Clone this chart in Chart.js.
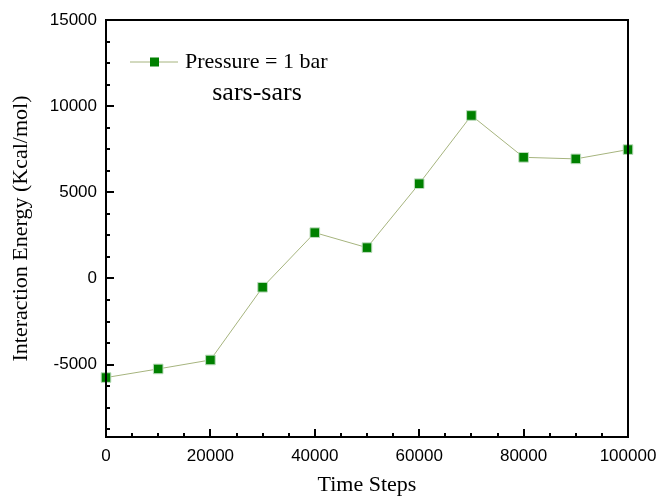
<!DOCTYPE html>
<html>
<head>
<meta charset="utf-8">
<script src="https://cdn.jsdelivr.net/npm/chart.js@4"></script>
<style>
  html, body { margin: 0; padding: 0; background: #fff; }
</style>
</head>
<body>
<canvas id="chart" width="660" height="496"></canvas>
<script>
// Data
const timeSteps = [0, 10000, 20000, 30000, 40000, 50000, 60000, 70000, 80000, 90000, 100000];
const energy = [-5750, -5250, -4730, -510, 2660, 1790, 5500, 9460, 7030, 6940, 7480];
const seriesLabel = 'Pressure = 1 bar';
const caption = 'sars-sars';

// Axis ticks
const xTicks = [0, 20000, 40000, 60000, 80000, 100000];
const yTicks = [-5000, 0, 5000, 10000, 15000];
const xRange = [0, 100000];
const yRange = [-9200, 15000];
const xMinorStep = 5000;
const yMinorStep = 1250;

const lineColor = '#a6b47e';
const markerColor = '#008000';
const markerEdge = '#bcdcbc';

// Draws the box frame, inward ticks and the in-plot legend
const framePlugin = {
  id: 'frame',
  afterDatasetsDraw(chart) {
    const { ctx, chartArea: a, scales: { x, y } } = chart;
    ctx.save();
    ctx.strokeStyle = '#000';
    ctx.lineWidth = 2;
    ctx.strokeRect(a.left, a.top, a.right - a.left, a.bottom - a.top);

    ctx.beginPath();
    for (let v = xRange[0]; v <= xRange[1]; v += xMinorStep) {
      const px = Math.round(x.getPixelForValue(v));
      const len = xTicks.includes(v) ? 8 : 4;
      ctx.moveTo(px, a.bottom);
      ctx.lineTo(px, a.bottom - len);
    }
    const yStart = Math.ceil(yRange[0] / yMinorStep) * yMinorStep;
    for (let v = yStart; v <= yRange[1]; v += yMinorStep) {
      const py = Math.round(y.getPixelForValue(v));
      const len = yTicks.includes(v) ? 8 : 4;
      ctx.moveTo(a.left, py);
      ctx.lineTo(a.left + len, py);
    }
    ctx.stroke();

    // legend entry
    const ly = a.top + 42;
    const lx = a.left + 24;
    ctx.strokeStyle = lineColor;
    ctx.lineWidth = 1;
    ctx.beginPath();
    ctx.moveTo(lx, ly);
    ctx.lineTo(lx + 48, ly);
    ctx.stroke();
    ctx.fillStyle = markerColor;
    ctx.fillRect(lx + 20, ly - 4.5, 9, 9);

    ctx.fillStyle = '#000';
    ctx.textBaseline = 'middle';
    ctx.textAlign = 'left';
    ctx.font = '22px "Liberation Serif"';
    ctx.fillText(chart.data.datasets[0].label, lx + 55, ly);
    ctx.textAlign = 'center';
    ctx.font = '26px "Liberation Serif"';
    ctx.fillText(caption, a.left + 151, ly + 31);
    ctx.restore();
  }
};

new Chart(document.getElementById('chart'), {
  type: 'line',
  data: {
    datasets: [{
      label: seriesLabel,
      data: timeSteps.map((t, i) => ({ x: t, y: energy[i] })),
      borderColor: lineColor,
      borderWidth: 1,
      backgroundColor: markerColor,
      pointStyle: 'rect',
      pointRadius: 6.8,
      pointBackgroundColor: markerColor,
      pointBorderColor: markerEdge,
      pointBorderWidth: 1,
      tension: 0,
      clip: false
    }]
  },
  options: {
    responsive: false,
    animation: false,
    layout: { padding: { top: 20, right: 32, left: 0, bottom: 0 } },
    plugins: { legend: { display: false }, tooltip: { enabled: false } },
    scales: {
      x: {
        type: 'linear',
        min: xRange[0],
        max: xRange[1],
        afterBuildTicks: s => { s.ticks = xTicks.map(v => ({ value: v })); },
        afterFit: s => { s.height = 59; s.paddingLeft = 0; s.paddingRight = 0; },
        grid: { display: false, drawTicks: false },
        border: { display: false },
        ticks: {
          padding: 9,
          color: '#000',
          maxRotation: 0,
          autoSkip: false,
          font: { family: 'Liberation Sans', size: 17 },
          callback: v => String(v)
        },
        title: {
          display: true,
          text: 'Time Steps',
          color: '#000',
          font: { family: 'Liberation Serif', size: 22, lineHeight: 1 },
          padding: 0
        }
      },
      y: {
        type: 'linear',
        min: yRange[0],
        max: yRange[1],
        afterBuildTicks: s => { s.ticks = yTicks.map(v => ({ value: v })); },
        afterFit: s => { s.width = 106; s.paddingTop = 0; s.paddingBottom = 0; },
        grid: { display: false, drawTicks: false },
        border: { display: false },
        ticks: {
          padding: 9,
          color: '#000',
          autoSkip: false,
          font: { family: 'Liberation Sans', size: 17 },
          callback: v => String(v)
        },
        title: {
          display: true,
          text: 'Interaction Energy (Kcal/mol)',
          color: '#000',
          font: { family: 'Liberation Serif', size: 22, lineHeight: 1 },
          padding: { top: 10, bottom: 0 }
        }
      }
    }
  },
  plugins: [framePlugin]
});
</script>
</body>
</html>
